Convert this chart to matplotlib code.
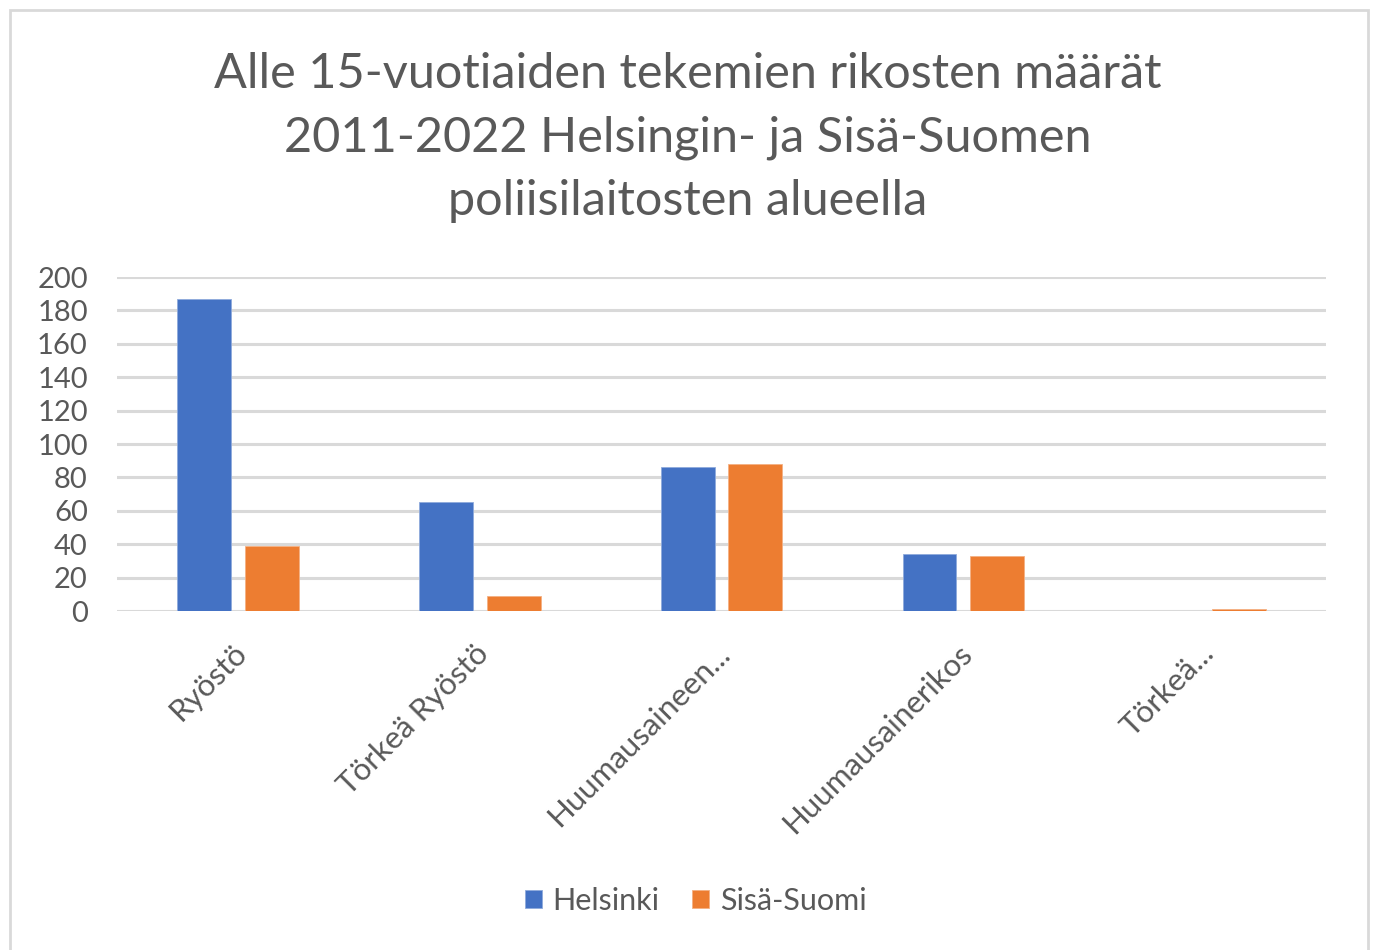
import matplotlib
matplotlib.use("Agg")
import matplotlib.pyplot as plt
import matplotlib.transforms as mtransforms
import numpy as np
from matplotlib.patches import Rectangle

plt.rcParams['font.family'] = ['Lato', 'DejaVu Sans']

# Data
categories = ["Ryöstö", "Törkeä Ryöstö", "Huumausaineen...", "Huumausainerikos", "Törkeä..."]
helsinki = [187, 65, 86, 34, 0]
sisa_suomi = [39, 9, 88, 33, 1]
series_names = ["Helsinki", "Sisä-Suomi"]
colors = ["#4472C4", "#ED7D31"]
yticks = [0, 20, 40, 60, 80, 100, 120, 140, 160, 180, 200]
title = "Alle 15-vuotiaiden tekemien rikosten määrät\n2011-2022 Helsingin- ja Sisä-Suomen\npoliisilaitosten alueella"

text_col = "#595959"
grid_col = "#D9D9D9"

fig = plt.figure(figsize=(13.75, 9.5), dpi=100)
ax = fig.add_axes([0.0851, 0.3568, 0.8793, 0.3516])

x = np.arange(len(categories))
w = 0.223
off = 0.14
ax.bar(x - off, helsinki, w, color=colors[0], label=series_names[0], zorder=3,
       edgecolor="#8FAADC", linewidth=0.6)
ax.bar(x + off, sisa_suomi, w, color=colors[1], label=series_names[1], zorder=3,
       edgecolor="#F4B183", linewidth=0.6)

ax.set_xlim(-0.5, len(categories) - 0.5)
ax.set_ylim(0, 200)
ax.set_yticks(yticks)
ax.set_yticklabels([str(v) for v in yticks], fontsize=21, color=text_col)
ax.yaxis.grid(True, color=grid_col, linewidth=2.2, zorder=0)
ax.set_axisbelow(True)
for s in ax.spines.values():
    s.set_visible(False)
ax.tick_params(axis='both', length=0)
ax.tick_params(axis='y', pad=21)

ax.set_xticks(x)
ax.set_xticklabels(categories, rotation=45, ha='right', va='top',
                   rotation_mode='anchor', fontsize=22.5, color=text_col)
ax.tick_params(axis='x', pad=20)
# nudge labels a few pixels to the left like the reference
shift = mtransforms.ScaledTranslation(-6 / 100, 0, fig.dpi_scale_trans)
for lbl in ax.get_xticklabels():
    lbl.set_transform(lbl.get_transform() + shift)

fig.text(0.5, 0.855, title, ha='center', va='center', fontsize=35,
         color=text_col, linespacing=1.53)

leg = fig.legend(loc='center', bbox_to_anchor=(0.506, 0.052), ncol=2, frameon=False,
                 fontsize=22, handlelength=0.55, handleheight=0.55,
                 handletextpad=0.35, columnspacing=1.08)
for t in leg.get_texts():
    t.set_color(text_col)

fig.patches.append(Rectangle((0.0073, -0.01), 0.9876, 0.9995 - 0.0105 + 0.01,
                             transform=fig.transFigure, fill=False,
                             edgecolor="#D9D9D9", linewidth=2))

fig.savefig("out.png", dpi=100)
